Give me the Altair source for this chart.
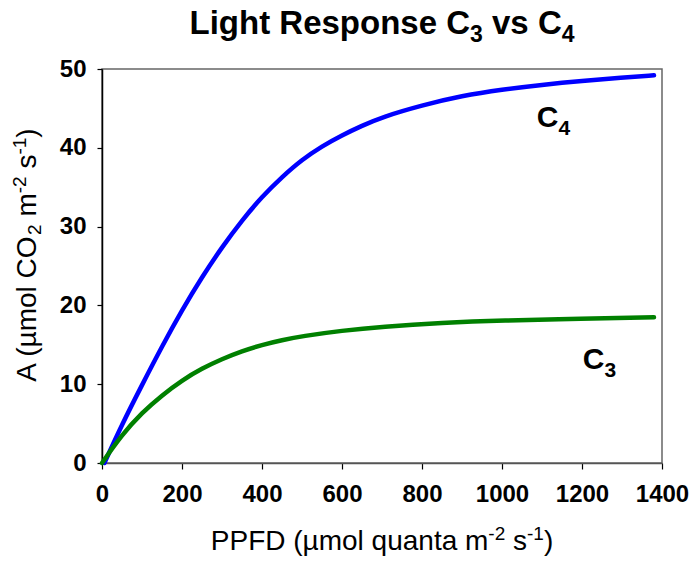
import altair as alt
import pandas as pd

# ---------------- data ----------------
ppfd_c4 = [6, 50, 100, 150, 200, 250, 300, 350, 400, 450, 500, 550, 600, 650,
           700, 800, 900, 1000, 1100, 1200, 1300, 1380]
a_c4 = [0, 4.9, 9.9, 14.8, 19.4, 23.6, 27.4, 30.8, 33.8, 36.3, 38.5, 40.2, 41.6, 42.8,
        43.9, 45.4, 46.6, 47.4, 48.0, 48.5, 48.9, 49.2]

ppfd_c3 = [0, 50, 100, 150, 200, 250, 300, 350, 400, 450, 500, 600, 700,
           850, 1000, 1200, 1380]
a_c3 = [0, 3.6, 6.4, 8.6, 10.5, 12.0, 13.2, 14.2, 15.0, 15.6, 16.1, 16.8, 17.3,
        17.8, 18.1, 18.3, 18.5]

label_main = ["C", "C"]
label_sub = ["4", "3"]
label_x = [1087, 1202]
label_y = [42.6, 11.9]

x_ticks = [0, 200, 400, 600, 800, 1000, 1200, 1400]
y_ticks = [0, 10, 20, 30, 40, 50]

# ---------------- layout ----------------
FONT = "Liberation Sans, Arial, Helvetica, sans-serif"
W, H = 560, 394
PAD = {"left": 102, "top": 69, "right": 27, "bottom": 100}

W_REG = {' ': 278, '(': 333, ')': 333, '-': 333, 'A': 667, 'C': 722, 'D': 722,
         'F': 611, 'O': 778, 'P': 667, 'µ': 576, 'a': 556, 'l': 222, 'm': 833,
         'n': 556, 'o': 556, 'q': 556, 's': 500, 't': 278, 'u': 556}
W_BOLD = {' ': 278, 'L': 611, 'i': 278, 'g': 611, 'h': 611, 't': 333, 'R': 722,
          'e': 556, 's': 556, 'p': 611, 'o': 611, 'n': 611, 'C': 722, 'v': 556}
for d in "0123456789":
    W_REG[d] = 556
    W_BOLD[d] = 556


def tw(s, size, bold):
    tab = W_BOLD if bold else W_REG
    return sum(tab.get(c, 556) for c in s) * size / 1000.0


one_row = pd.DataFrame({"k": [0]})


def run_layers(parts, bold, x0, y0, angle=0):
    total = sum(tw(t, s, bold) for t, s, _ in parts)
    layers = []
    off = -total / 2
    for t, s, shift in parts:
        lead = len(t) - len(t.lstrip(" "))
        off += tw(" " * lead, s, bold)
        body = t.lstrip(" ")
        if angle == 0:
            px, py = x0 + off, y0 + shift
        else:
            px, py = x0 + shift, y0 - off
        kw = dict(font=FONT, fontSize=s, fontWeight="bold" if bold else "normal",
                  align="left", baseline="alphabetic", color="black")
        if angle:
            kw["angle"] = angle
        layers.append(
            alt.Chart(one_row).mark_text(**kw).encode(
                x=alt.value(px), y=alt.value(py), text=alt.value(body))
        )
        off += tw(body, s, bold)
    return layers


df4 = pd.DataFrame({"ppfd": ppfd_c4, "A": a_c4})
df3 = pd.DataFrame({"ppfd": ppfd_c3, "A": a_c3})
dfl = pd.DataFrame({"ppfd": label_x, "A": label_y, "main": label_main, "sub": label_sub})

x_enc = alt.X("ppfd:Q", scale=alt.Scale(domain=[0, 1400], nice=False, zero=True),
              axis=alt.Axis(values=x_ticks, title=None, grid=False, format="d",
                            labelFont=FONT, labelFontWeight="bold", labelFontSize=24,
                            labelColor="black", tickColor="black", tickSize=6,
                            tickWidth=1.2, domainColor="#555555", domainWidth=1.5,
                            labelPadding=13, labelFlush=False, labelOverlap=False))
y_enc = alt.Y("A:Q", scale=alt.Scale(domain=[0, 50], nice=False, zero=True),
              axis=alt.Axis(values=y_ticks, title=None, grid=False, format="d",
                            labelFont=FONT, labelFontWeight="bold", labelFontSize=24,
                            labelColor="black", tickColor="black", tickSize=5,
                            tickWidth=1.2, domainColor="black", domainWidth=1.5,
                            labelPadding=11, labelOverlap=False))

c4_line = alt.Chart(df4).mark_line(color="#0000FF", strokeWidth=4.5,
                                   interpolate="basis", strokeCap="round").encode(
    x=x_enc, y=y_enc)
c3_line = alt.Chart(df3).mark_line(color="#008000", strokeWidth=4.5,
                                   interpolate="basis", strokeCap="round").encode(
    x="ppfd:Q", y="A:Q")

lab_main = alt.Chart(dfl).mark_text(font=FONT, fontSize=30, fontWeight="bold",
                                    align="left", baseline="alphabetic",
                                    color="black").encode(
    x="ppfd:Q", y="A:Q", text="main:N")
lab_sub = alt.Chart(dfl).mark_text(font=FONT, fontSize=21, fontWeight="bold",
                                   align="left", baseline="alphabetic", color="black",
                                   dx=tw("C", 30, True), dy=8).encode(
    x="ppfd:Q", y="A:Q", text="sub:N")

title_parts = [("Light Response C", 33, 0), ("3", 23, 8), (" vs C", 33, 0), ("4", 23, 8)]
xt_parts = [("PPFD (µmol quanta m", 28, 0), ("-2", 19, -10), (" s", 28, 0),
            ("-1", 19, -10), (")", 28, 0)]
yt_parts = [("A (µmol CO", 28, 0), ("2", 19, 5), (" m", 28, 0), ("-2", 19, -10),
            (" s", 28, 0), ("-1", 19, -10), (")", 28, 0)]

texts = []
texts += run_layers(title_parts, True, W / 2, 34 - PAD["top"])
texts += run_layers(xt_parts, False, W / 2, 550 - PAD["top"])
texts += run_layers(yt_parts, False, 36 - PAD["left"], 255 - PAD["top"], angle=270)

chart = alt.layer(c4_line, c3_line, lab_main, lab_sub, *texts).properties(
    width=W, height=H,
    autosize=alt.AutoSizeParams(type="none"),
    padding=PAD,
    background="white",
).configure_view(stroke="#666666", strokeWidth=1.5)

chart.save("out.html", embed_options={"renderer": "svg", "actions": False})
